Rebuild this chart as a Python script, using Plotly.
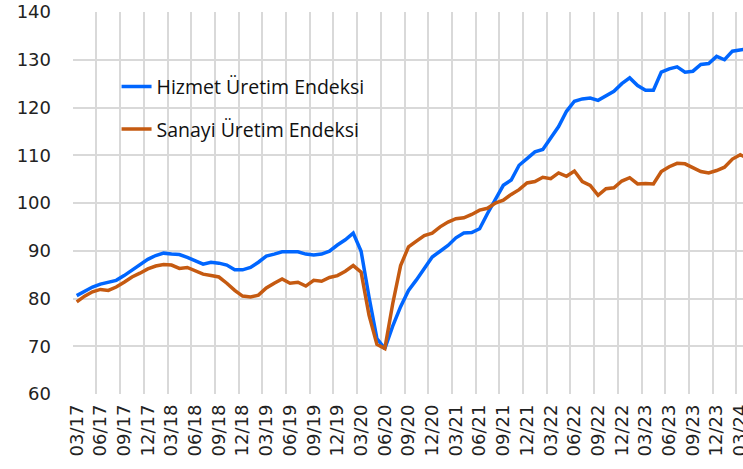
import pandas as pd
import plotly.graph_objects as go

hizmet = [
    80.6, 81.6, 82.4, 83.0, 83.4, 83.8, 84.8, 86.0, 87.2, 88.2,
    89.0, 89.5, 89.3, 89.2, 88.6, 87.9, 87.2, 87.6, 87.4, 87.0,
    86.0, 86.0, 86.5, 87.6, 88.9, 89.3, 89.8, 89.8, 89.8, 89.3,
    89.1, 89.3, 89.9, 91.2, 92.3, 93.7, 89.9, 80.3, 71.6, 69.5,
    74.2, 78.3, 81.7, 83.9, 86.2, 88.7, 89.9, 91.1, 92.7, 93.7,
    93.8, 94.6, 97.8, 100.9, 103.7, 104.8, 107.9, 109.3, 110.7, 111.2,
    113.5, 116.0, 119.2, 121.3, 121.8, 122.0, 121.5, 122.5, 123.4, 125.0,
    126.2, 124.6, 123.6, 123.6, 127.4, 128.1, 128.5, 127.4, 127.6, 129.0,
    129.2, 130.7, 130.0, 131.8, 132.1, 132.3,
]

sanayi = [
    79.3, 80.5, 81.4, 81.9, 81.7, 82.4, 83.4, 84.5, 85.3, 86.2,
    86.8, 87.1, 87.0, 86.3, 86.5, 85.7, 85.1, 84.8, 84.5, 83.2,
    81.7, 80.5, 80.3, 80.7, 82.2, 83.2, 84.1, 83.2, 83.4, 82.6,
    83.8, 83.6, 84.4, 84.8, 85.7, 86.9, 85.5, 76.5, 70.4, 69.5,
    78.9, 86.9, 90.8, 92.0, 93.2, 93.7, 95.0, 96.0, 96.7, 96.9,
    97.6, 98.5, 98.9, 100.0, 100.6, 101.8, 102.8, 104.2, 104.5, 105.4,
    105.1, 106.3, 105.6, 106.7, 104.5, 103.7, 101.6, 103.0, 103.2, 104.6,
    105.3, 104.0, 104.1, 104.0, 106.6, 107.6, 108.3, 108.2, 107.5, 106.6,
    106.3, 106.8, 107.5, 109.2, 110.1, 109.3,
]

aylar = list(pd.date_range("2017-03-01", periods=len(hizmet), freq="MS").strftime("%m/%y"))

fig = go.Figure()

fig.add_trace(
    go.Scatter(
        x=aylar,
        y=hizmet,
        mode="lines",
        name="Hizmet Üretim Endeksi",
        legendgroup="a",
        line=dict(color="#0066ff", width=3.5)
    )
)

fig.add_trace(
    go.Scatter(
        x=aylar,
        y=sanayi,
        mode="lines",
        name="Sanayi Üretim Endeksi",
        legendgroup="b",
        line=dict(color="#c55a11", width=3.5)
    )
)

fig.update_layout(
    width=743,
    height=469,
    margin=dict(l=73, r=0, t=12, b=75),
    plot_bgcolor="white",
    paper_bgcolor="white",
    font=dict(family="DejaVu Sans", size=18, color="#222222"),
    legend=dict(
        x=0.065,
        y=0.855,
        xanchor="left",
        yanchor="top",
        traceorder="grouped",
        tracegroupgap=14,
        bgcolor="rgba(0,0,0,0)",
        font=dict(family="Open Sans", size=19.5, color="#111111")
    )
)

fig.update_xaxes(
    type="category",
    range=[-0.47, 84.34],
    tickmode="linear",
    tick0=0,
    dtick=3,
    tickson="boundaries",
    ticks="",
    tickangle=-90,
    ticklabelstandoff=6,
    automargin=False,
    showgrid=True,
    gridcolor="#d9d9d9",
    gridwidth=2,
    zeroline=False,
    showline=False
)

fig.update_yaxes(
    range=[60, 140],
    dtick=10,
    automargin=False,
    ticklabeloverflow="allow",
    showgrid=True,
    gridcolor="#d9d9d9",
    gridwidth=2,
    zeroline=False,
    showline=False,
    ticklabelstandoff=21
)

# drop the default body margin so the figure sits at the page corner
fig.write_html(
    "out.html",
    config={"displayModeBar": False},
    post_script="document.body.style.margin='0';"
)
